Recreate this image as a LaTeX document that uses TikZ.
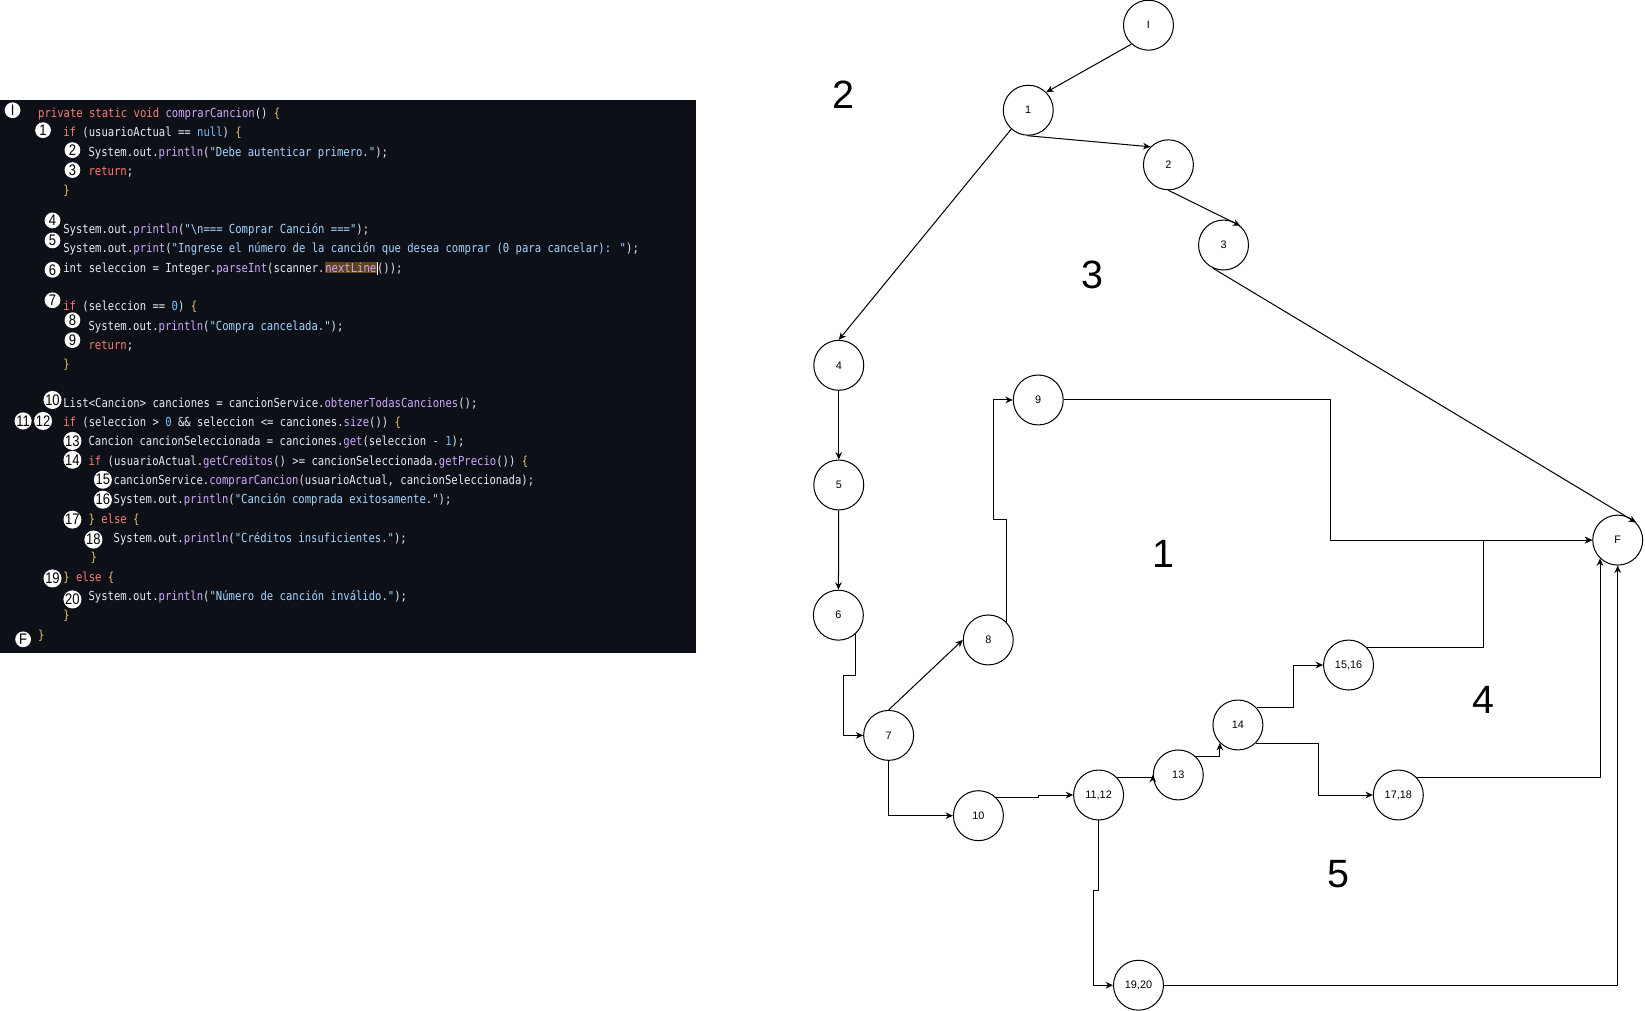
\documentclass[tikz,border=0pt]{standalone}
\usepackage{fontspec}
\setmainfont{Liberation Sans}
\newfontfamily\codefont[FakeStretch=0.85]{DejaVu Sans Mono}
\newfontfamily\narrowfont[FakeStretch=0.85]{Liberation Sans}
\usetikzlibrary{arrows.meta}
\definecolor{codebg}{HTML}{0D1117}
\definecolor{kwred}{HTML}{FF7B72}
\definecolor{fnpurple}{HTML}{D2A8FF}
\definecolor{strblue}{HTML}{A5D6FF}
\definecolor{numblue}{HTML}{79C0FF}
\definecolor{plaintxt}{HTML}{E6EDF3}
\definecolor{brgold}{HTML}{E3C26B}
\definecolor{hlbrown}{HTML}{5E4418}
\newcommand{\kwd}[1]{\textcolor{kwred}{#1}}
\newcommand{\fnc}[1]{\textcolor{fnpurple}{#1}}
\newcommand{\strg}[1]{\textcolor{strblue}{#1}}
\newcommand{\numb}[1]{\textcolor{numblue}{#1}}
\newcommand{\brc}[1]{\textcolor{brgold}{#1}}
\newcommand{\hlt}[1]{{\fboxsep=0.4pt\colorbox{hlbrown}{#1}}\rlap{\textcolor{white}{\rule[-1.6pt]{0.45pt}{7pt}}}}
\begin{document}
\begin{tikzpicture}[x=0.02cm, y=-0.02cm, line join=round,
	vtx/.style={draw, circle, minimum size=0.952cm, inner sep=0pt, line width=0.55pt,
		font=\fontsize{5.9}{6}\selectfont},
	edge/.style={-{Stealth[length=4pt,width=3.6pt]}, line width=0.55pt},
	region/.style={font=\fontsize{21.4}{22}\selectfont},
	codeline/.style={anchor=base west, inner sep=0pt, text=plaintxt,
		font=\codefont\fontsize{6.75}{7}\selectfont},
	linemark/.style={circle, fill=white, minimum size=0.3cm, inner sep=0pt,
		font=\narrowfont\fontsize{8.3}{8.3}\selectfont}]
	\useasboundingbox (0,0) rectangle (1567,963);
	\begin{scope}
		% code panel
		\fill[codebg] (0,95) rectangle (663,622);
		\node[codeline] (c0) at (36,112) {\kwd{private static void} \fnc{comprarCancion}() \brc{\{}};
		\node[codeline] (c1) at (60,130.4) {\kwd{if} (usuarioActual == \numb{null}) \brc{\{}};
		\node[codeline] (c2) at (84,148.8) {System.out.\fnc{println}(\strg{"Debe autenticar primero."});};
		\node[codeline] (c3) at (84,167.2) {\kwd{return};};
		\node[codeline] (c4) at (60,185.6) {\brc{\}}};
		\node[codeline] (c6) at (60,222.4) {System.out.\fnc{println}(\strg{"\textbackslash n=== Comprar Canción ==="});};
		\node[codeline] (c7) at (60,240.8) {System.out.\fnc{print}(\strg{"Ingrese el número de la canción que desea comprar (0 para cancelar): "});};
		\node[codeline] (c8) at (60,259.2) {int seleccion = Integer.\fnc{parseInt}(scanner.\hlt{\fnc{nextLine}}());};
		\node[codeline] (c10) at (60,296) {\kwd{if} (seleccion == \numb{0}) \brc{\{}};
		\node[codeline] (c11) at (84,314.4) {System.out.\fnc{println}(\strg{"Compra cancelada."});};
		\node[codeline] (c12) at (84,332.8) {\kwd{return};};
		\node[codeline] (c13) at (60,351.2) {\brc{\}}};
		\node[codeline] (c15) at (60,388) {List<Cancion> canciones = cancionService.\fnc{obtenerTodasCanciones}();};
		\node[codeline] (c16) at (60,406.4) {\kwd{if} (seleccion > \numb{0} \&\& seleccion <= canciones.\fnc{size}()) \brc{\{}};
		\node[codeline] (c17) at (84,424.8) {Cancion cancionSeleccionada = canciones.\fnc{get}(seleccion - \numb{1});};
		\node[codeline] (c18) at (84,443.2) {\kwd{if} (usuarioActual.\fnc{getCreditos}() >= cancionSeleccionada.\fnc{getPrecio}()) \brc{\{}};
		\node[codeline] (c19) at (108,461.6) {cancionService.\fnc{comprarCancion}(usuarioActual, cancionSeleccionada);};
		\node[codeline] (c20) at (108,480) {System.out.\fnc{println}(\strg{"Canción comprada exitosamente."});};
		\node[codeline] (c21) at (84,498.4) {\brc{\}} \kwd{else} \brc{\{}};
		\node[codeline] (c22) at (108,516.8) {System.out.\fnc{println}(\strg{"Créditos insuficientes."});};
		\node[codeline] (c23) at (86,535.2) {\brc{\}}};
		\node[codeline] (c24) at (60,553.6) {\brc{\}} \kwd{else} \brc{\{}};
		\node[codeline] (c25) at (84,572) {System.out.\fnc{println}(\strg{"Número de canción inválido."});};
		\node[codeline] (c26) at (60,590.4) {\brc{\}}};
		\node[codeline] (c27) at (36,608.8) {\brc{\}}};
		\foreach \lbl/\px/\py in {I/12/105, 1/41/124, 2/69/143, 3/69/162, 4/50/210, 5/50/229,
			6/50/257, 7/50/286, 8/69/305, 9/69/324, 10/50/381, 11/22/401, 12/41/401,
			13/69/420, 14/69/438, 15/98/457, 16/98/476, 17/69/495, 18/89/514,
			19/50/551, 20/69/571, F/22/609}
			\node[linemark] (m\lbl) at (\px,\py) {\lbl};
	\end{scope}
	\begin{scope}
		% flow graph
		\node[vtx] (nI) at (1094,24) {I};
		\node[vtx] (n1) at (979.5,105) {1};
		\node[vtx] (n2) at (1113,157) {2};
		\node[vtx] (n3) at (1165.5,233.4) {3};
		\node[vtx] (n4) at (799,348) {4};
		\node[vtx] (n5) at (799,462) {5};
		\node[vtx] (n6) at (798.6,586) {6};
		\node[vtx] (n7) at (846.5,700.5) {7};
		\node[vtx] (n8) at (941.4,609.6) {8};
		\node[vtx] (n9) at (989,381) {9};
		\node[vtx] (n10) at (932,777) {10};
		\node[vtx] (n1112) at (1046.5,757.3) {11,12};
		\node[vtx] (n13) at (1122.4,738.2) {13};
		\node[vtx] (n14) at (1179.2,690.6) {14};
		\node[vtx] (n1516) at (1284.6,633.5) {15,16};
		\node[vtx] (n1718) at (1332,757.3) {17,18};
		\node[vtx] (n1920) at (1084.5,938.5) {19,20};
		\node[vtx] (nF) at (1541,514.5) {F};
		\draw[edge] (nI.-132) -- (n1.45);
		\draw[edge] (n1.-92) -- (n2.135);
		\draw[edge] (n2.south) -- (n3.49);
		\draw[edge] (n1.-132) -- (n4.north);
		\draw[edge] (n3.-115) -- (nF.44);
		\draw[edge] (n4) -- (n5);
		\draw[edge] (n5) -- (n6);
		\draw[edge] (n6.-47) -- ++(0,40) -- ++(-12,0) |- (n7.west);
		\draw[edge] (n7.north) -- (n8.west);
		\draw[edge] (n8.45) -- ++(0,-97.5) -- ++(-12,0) |- (n9.west);
		\draw[edge] (n9.east) -- ++(254,0) |- (nF.west);
		\draw[edge] (n7.south) |- (n10.west);
		\draw[edge] (n10.47) -- ++(40.6,0) |- (n1112.west);
		\draw[edge] (n1112.43) -| (n13.west);
		\draw[edge] (n13.45) -| (n14.-135);
		\draw[edge] (n14.43) -- ++(35.4,0) |- (n1516.west);
		\draw[edge] (n14.-45) -- ++(59.5,0) |- (n1718.west);
		\draw[edge] (n1516.44) -- ++(111.3,0) |- (nF.west);
		\draw[edge] (n1718.44) -| (nF.-134);
		\draw[edge] (n1112.south) -- ++(0,66.7) -- ++(-4.7,0) |- (n1920.west);
		\draw[edge] (n1920.east) -| (nF.south);
		\node[region] (r2) at (803,90) {2};
		\node[region] (r3) at (1041,262) {3};
		\node[region] (r1) at (1108,528) {1};
		\node[region] (r4) at (1413,667) {4};
		\node[region] (r5) at (1275,833) {5};
	\end{scope}
\end{tikzpicture}
\end{document}
